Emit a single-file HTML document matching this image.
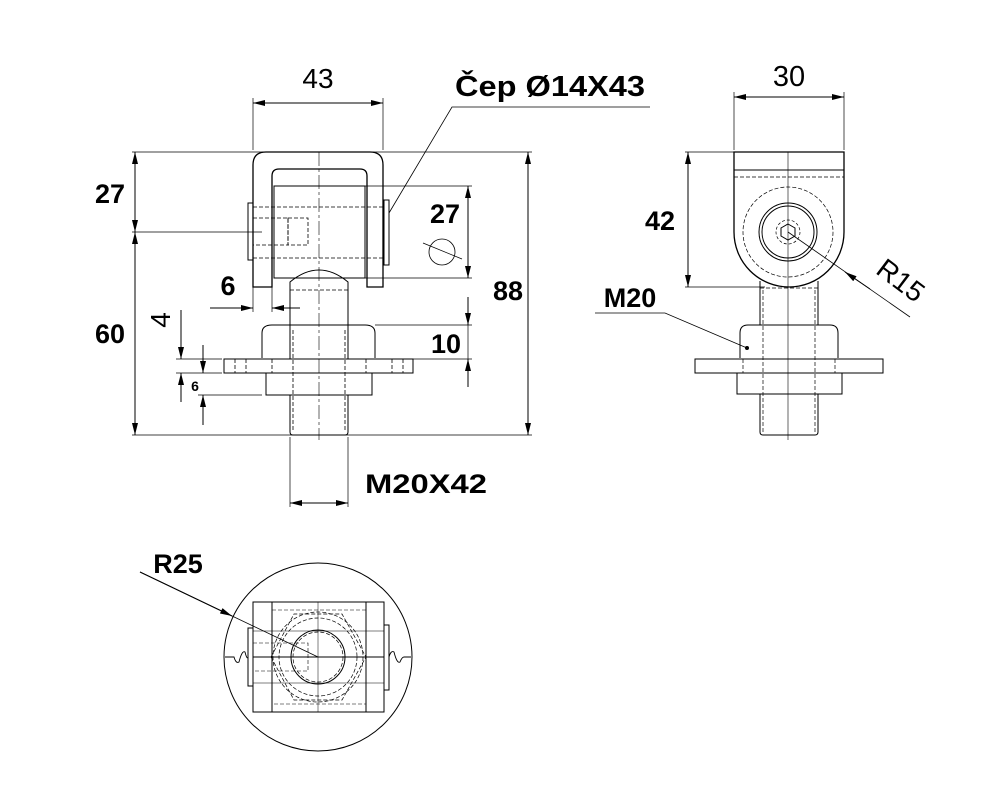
<!DOCTYPE html>
<html><head><meta charset="utf-8"><style>
html,body{margin:0;padding:0;background:#fff}
svg{display:block}
text{font-family:"Liberation Sans","DejaVu Sans",sans-serif;fill:#000}
.b{font-weight:bold;font-size:27px}
.n{font-size:28px}
</style></head><body>
<svg width="1000" height="800" viewBox="0 0 1000 800" xmlns="http://www.w3.org/2000/svg">
<defs>
<marker id="a" viewBox="0 0 12 6" refX="12" refY="3" markerWidth="12" markerHeight="6" orient="auto-start-reverse" markerUnits="userSpaceOnUse"><path d="M0,0 L12,3 L0,6 z" fill="#000"/></marker>
</defs>
<g fill="none" stroke="#000" stroke-width="1">
<!-- FRONT VIEW -->
<path d="M253,287 V165 Q253,152 266,152 H370 Q383,152 383,165 V287 H367 V176 Q367,169 360,169 H279 Q272,169 272,176 V287 Z" stroke-width="1.3"/>
<rect x="274" y="186" width="91" height="92"/>
<rect x="248" y="203" width="5" height="57"/>
<rect x="384" y="200" width="5" height="65"/>
<g stroke-dasharray="4,2" stroke-width="0.8">
<line x1="253" y1="207" x2="384" y2="207"/><line x1="253" y1="258" x2="384" y2="258"/>
<rect x="253" y="218" width="35" height="27"/><rect x="288" y="218" width="20" height="27"/>
<line x1="290" y1="290" x2="348" y2="290"/>
<line x1="293" y1="330" x2="293" y2="432"/><line x1="345" y1="330" x2="345" y2="432"/>
<line x1="235" y1="359" x2="235" y2="373"/><line x1="246" y1="359" x2="246" y2="373"/>
<line x1="392" y1="359" x2="392" y2="373"/><line x1="403" y1="359" x2="403" y2="373"/>
<line x1="272" y1="359" x2="272" y2="373"/><line x1="366" y1="359" x2="366" y2="373"/>
</g>
<path d="M290,330 V282 Q319,258 348,282 V330"/>
<path d="M262,358 V333 Q262,325 272,325 H365 Q375,325 375,333 V358"/>
<rect x="224" y="359" width="189" height="14"/>
<rect x="266" y="373" width="106" height="22"/>
<path d="M290,395 V432 Q290,435 293,435 H345 Q348,435 348,432 V395"/>
<line x1="290" y1="325" x2="290" y2="359"/><line x1="348" y1="325" x2="348" y2="359"/>
<line x1="319" y1="152" x2="319" y2="440" stroke-width="0.6" stroke-dasharray="14,3,3,3"/>
<!-- front dims -->
<line x1="253" y1="150" x2="253" y2="98" stroke-width="0.7"/><line x1="383" y1="150" x2="383" y2="98" stroke-width="0.7"/>
<line x1="253" y1="103" x2="383" y2="103" marker-start="url(#a)" marker-end="url(#a)"/>
<line x1="132" y1="152" x2="532" y2="152" stroke-width="0.7"/>
<line x1="132" y1="435" x2="532" y2="435" stroke-width="0.7"/>
<line x1="135" y1="152" x2="135" y2="232" marker-start="url(#a)" marker-end="url(#a)"/>
<line x1="135" y1="232" x2="135" y2="435" marker-start="url(#a)" marker-end="url(#a)"/>
<line x1="132" y1="232" x2="262" y2="232" stroke-width="0.7"/>
<line x1="528" y1="152" x2="528" y2="435" marker-start="url(#a)" marker-end="url(#a)"/>
<line x1="365" y1="186" x2="472" y2="186" stroke-width="0.7"/>
<line x1="365" y1="278" x2="472" y2="278" stroke-width="0.7"/>
<line x1="468" y1="186" x2="468" y2="278" marker-start="url(#a)" marker-end="url(#a)"/>
<circle cx="442" cy="252" r="13" stroke-width="0.8"/>
<line x1="423" y1="243" x2="462" y2="259" stroke-width="0.7"/>
<line x1="375" y1="325" x2="472" y2="325" stroke-width="0.7"/>
<line x1="413" y1="359" x2="472" y2="359" stroke-width="0.7"/>
<line x1="468" y1="297" x2="468" y2="325" marker-end="url(#a)"/>
<line x1="468" y1="387" x2="468" y2="359" marker-end="url(#a)"/>
<line x1="468" y1="325" x2="468" y2="359" stroke-width="0.7"/>
<line x1="253" y1="287" x2="253" y2="312" stroke-width="0.7"/><line x1="272" y1="287" x2="272" y2="312" stroke-width="0.7"/>
<line x1="210" y1="308" x2="253" y2="308" marker-end="url(#a)"/>
<line x1="300" y1="308" x2="272" y2="308" marker-end="url(#a)"/>
<line x1="176" y1="359" x2="222" y2="359" stroke-width="0.7"/>
<line x1="176" y1="373" x2="222" y2="373" stroke-width="0.7"/>
<line x1="198" y1="395" x2="262" y2="395" stroke-width="0.7"/>
<line x1="181" y1="310" x2="181" y2="359" marker-end="url(#a)"/>
<line x1="181" y1="402" x2="181" y2="373" marker-end="url(#a)"/>
<line x1="203" y1="345" x2="203" y2="373" marker-end="url(#a)"/>
<line x1="203" y1="425" x2="203" y2="395" marker-end="url(#a)"/>
<line x1="290" y1="437" x2="290" y2="507" stroke-width="0.7"/><line x1="348" y1="437" x2="348" y2="507" stroke-width="0.7"/>
<line x1="290" y1="503" x2="348" y2="503" marker-start="url(#a)" marker-end="url(#a)"/>
<polyline points="389,213 452,107 650,107" stroke-width="0.8"/>
<!-- SIDE VIEW -->
<path d="M734,152 H844 V232 A55,55 0 0 1 734,232 Z" stroke-width="1.3"/>
<line x1="734" y1="170" x2="844" y2="170"/>
<line x1="734" y1="177" x2="844" y2="177" stroke-dasharray="4,2" stroke-width="0.7"/>
<circle cx="788" cy="232" r="45" stroke-dasharray="4,2" stroke-width="0.7"/>
<circle cx="788" cy="232" r="29"/><circle cx="788" cy="232" r="26"/>
<circle cx="788" cy="232" r="12" stroke-dasharray="3,2" stroke-width="0.7"/>
<polygon points="788,224 795,228 795,236 788,240 781,236 781,228"/>
<line x1="760" y1="281" x2="760" y2="325"/><line x1="818" y1="281" x2="818" y2="325"/>
<path d="M740,358 V333 Q740,325 748,325 H830 Q838,325 838,333 V358"/>
<rect x="695" y="359" width="188" height="14"/>
<rect x="737" y="373" width="105" height="21"/>
<path d="M760,394 V432 Q760,435 763,435 H815 Q818,435 818,432 V394"/>
<g stroke-dasharray="4,2" stroke-width="0.7">
<line x1="760" y1="288" x2="818" y2="288"/>
<line x1="763" y1="290" x2="763" y2="432"/><line x1="815" y1="290" x2="815" y2="432"/>
<line x1="743" y1="359" x2="743" y2="373"/><line x1="835" y1="359" x2="835" y2="373"/>
</g>
<line x1="788" y1="152" x2="788" y2="440" stroke-width="0.6"/>
<line x1="734" y1="150" x2="734" y2="92" stroke-width="0.7"/><line x1="844" y1="150" x2="844" y2="92" stroke-width="0.7"/>
<line x1="734" y1="97" x2="844" y2="97" marker-start="url(#a)" marker-end="url(#a)"/>
<line x1="685" y1="152" x2="735" y2="152" stroke-width="0.7"/>
<line x1="685" y1="287" x2="765" y2="287" stroke-width="0.7"/>
<line x1="688" y1="152" x2="688" y2="287" marker-start="url(#a)" marker-end="url(#a)"/>
<line x1="910" y1="317" x2="788" y2="232" stroke-width="0.8"/>
<line x1="870" y1="289" x2="845" y2="272" marker-end="url(#a)"/>
<polyline points="595,313 665,313 747,348" stroke-width="0.8"/>
<circle cx="747" cy="348" r="1.5" fill="#000"/>
<!-- BOTTOM VIEW -->
<circle cx="318" cy="657" r="94"/>
<rect x="253" y="602" width="131" height="110"/>
<line x1="272" y1="602" x2="272" y2="712"/><line x1="366" y1="602" x2="366" y2="712"/>
<rect x="248" y="628" width="5" height="58"/><rect x="384" y="625" width="5" height="65"/>
<circle cx="318" cy="657" r="27"/>
<circle cx="318" cy="657" r="25" stroke-dasharray="4,2" stroke-width="0.7"/>
<circle cx="318" cy="657" r="39" stroke-dasharray="4,2" stroke-width="0.7"/>
<circle cx="318" cy="657" r="45" stroke-dasharray="4,2" stroke-width="0.7"/>
<polygon points="271,657 294,614 342,614 366,657 342,700 294,700" stroke-dasharray="4,2" stroke-width="0.7"/>
<rect x="272" y="610" width="94" height="94" stroke-dasharray="4,2" stroke-width="0.6"/>
<rect x="253" y="643" width="55" height="28" stroke-dasharray="4,2" stroke-width="0.6"/>
<line x1="253" y1="631" x2="384" y2="631" stroke-width="0.6"/><line x1="253" y1="683" x2="384" y2="683" stroke-width="0.6"/>
<line x1="318" y1="602" x2="318" y2="712" stroke-width="0.5"/>
<path d="M225,657 H234 Q236,664 239,662 Q242,650 245,652 Q247,660 248,657 M253,657 H384 M389,657 Q391,650 394,652 Q397,664 400,662 Q402,657 404,657 H411" stroke-width="0.9"/>
<line x1="140" y1="572" x2="318" y2="657" stroke-width="0.8"/>
<line x1="140" y1="572" x2="232" y2="616" marker-end="url(#a)"/>
</g>
<!-- labels -->
<text class="n" x="318" y="88" text-anchor="middle">43</text>
<text class="b" x="455" y="96" textLength="190" lengthAdjust="spacingAndGlyphs" style="font-size:29px">Čep Ø14X43</text>
<text class="b" x="110" y="203" text-anchor="middle">27</text>
<text class="b" x="110" y="343" text-anchor="middle">60</text>
<text class="b" x="445" y="223" text-anchor="middle">27</text>
<text class="b" x="508" y="300" text-anchor="middle">88</text>
<text class="b" x="446" y="353" text-anchor="middle">10</text>
<text class="b" x="228" y="295" text-anchor="middle">6</text>
<text class="n" transform="translate(170,320) rotate(-90)" text-anchor="middle">4</text>
<text x="195" y="391" text-anchor="middle" style="font-size:14px;font-weight:bold">6</text>
<text class="b" x="365" y="493" textLength="122" lengthAdjust="spacingAndGlyphs">M20X42</text>
<text class="n" x="789" y="86" text-anchor="middle" style="font-size:29px">30</text>
<text class="b" x="660" y="230" text-anchor="middle">42</text>
<text class="b" x="630" y="307" text-anchor="middle">M20</text>
<text class="n" transform="translate(895,288) rotate(37)" text-anchor="middle">R15</text>
<text class="b" x="178" y="573" text-anchor="middle">R25</text>
</svg>
</body></html>
